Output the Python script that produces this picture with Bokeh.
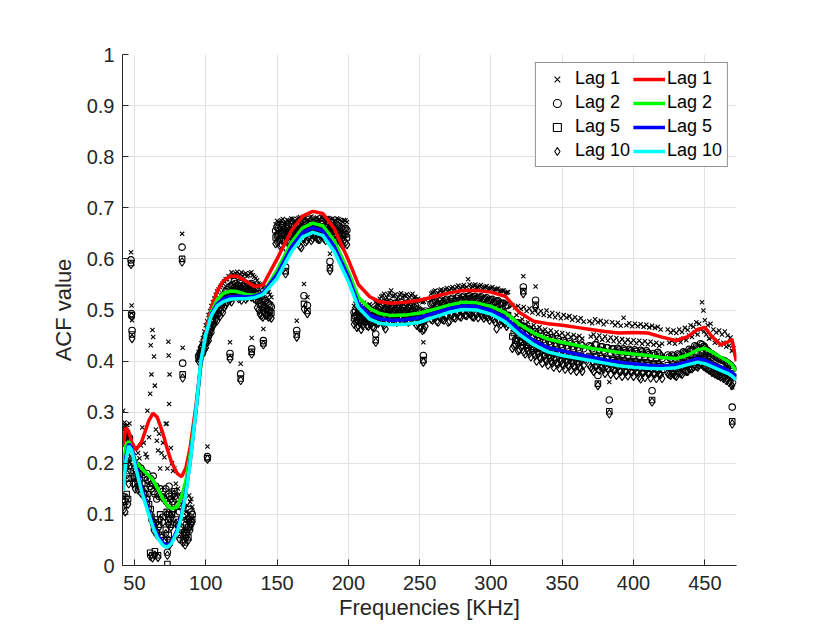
from bokeh.plotting import figure
from bokeh.models import Range1d, FixedTicker, Legend, LegendItem, ColumnDataSource
from bokeh.embed import file_html
from bokeh.resources import INLINE

# ---------------- data ----------------
x_ticks = [50, 100, 150, 200, 250, 300, 350, 400, 450]
y_ticks = [0, 0.1, 0.2, 0.3, 0.4, 0.5, 0.6, 0.7, 0.8, 0.9, 1]

# measured ACF values (markers) at each frequency [KHz]
freq_khz = [
    42.0, 42.5, 43.0, 43.5, 44.0, 44.5, 45.0, 45.5, 46.0, 46.5, 47.6, 48.0, 48.3,
    48.8, 49.5, 50.5, 51.5, 52.5, 53.5, 54.5, 55.5, 56.5, 57.8, 58.8, 59.1, 60.2,
    61.0, 61.4, 61.9, 62.6, 63.1, 63.7, 64.3, 65.0, 65.7, 66.5, 67.3, 68.0, 69.0,
    70.0, 71.0, 72.0, 72.6, 73.1, 73.8, 74.0, 74.3, 74.6, 75.5, 76.3, 77.0, 78.0,
    79.0, 80.5, 81.5, 82.5, 83.4, 83.8, 84.0, 84.8, 85.5, 86.3, 87.0, 87.8, 88.3,
    89.0, 89.8, 90.5, 101.2,
    117.0, 124.5, 132.2, 140.4, 156.0, 163.8, 168.9, 171.3, 187.1, 219.2, 252.6, 322.7, 331.3,
    95, 97, 99, 101, 103, 105, 107, 109, 111, 113, 115, 117, 119, 121, 123, 125, 127, 129, 131, 133,
    135, 137, 139, 141, 143, 145,
    149, 151, 153, 155, 157, 159, 161, 163, 165, 167, 169, 171, 173, 175, 177, 179, 181, 183, 185, 187,
    189, 191, 193, 195, 197, 199,
    204, 206, 208, 210, 212, 214, 216, 218, 220, 222, 224, 226, 228, 230, 232, 234, 236, 238, 240, 242,
    244, 246, 248, 250, 252, 254,
    258, 260, 262, 264, 266, 268, 270, 272, 274, 276, 278, 280, 282, 284, 286, 288, 290, 292, 294, 296,
    298, 300, 302, 304, 306, 308, 310, 312,
    315, 317, 319, 321, 323, 325, 327, 329, 331, 333, 335, 337, 339, 341, 343, 345, 347, 349, 351, 353,
    355, 357, 359, 361, 363, 365,
    369, 371, 373, 375, 377, 379, 381, 383, 385, 387, 389, 391, 393, 395, 397, 399, 401, 403, 405, 407,
    409, 411, 413, 415, 417, 419,
    424, 426, 428, 430, 432, 434, 436, 438, 440, 442, 444, 446, 448, 449, 450, 452, 454, 456, 458, 460,
    462, 464, 466, 468, 469.2, 470,
    # in-between frequencies of the dense bands
    96, 98, 100, 102, 104, 106, 108, 110, 112, 114, 116, 118, 120, 122, 124, 126, 128, 130, 132, 134,
    136, 138, 140, 142, 144, 146,
    150, 152, 154, 156, 158, 160, 162, 164, 166, 168, 170, 172, 174, 176, 178, 180, 182, 184, 186, 188,
    190, 192, 194, 196, 198,
    205, 207, 209, 211, 213, 215, 217, 219, 221, 223, 225, 227, 229, 231, 233, 235, 237, 239, 241, 243,
    245, 247, 249, 251, 253,
    259, 261, 263, 265, 267, 269, 271, 273, 275, 277, 279, 281, 283, 285, 287, 289, 291, 293, 295, 297,
    299, 301, 303, 305, 307, 309, 311,
    316, 318, 320, 322, 324, 326, 328, 330, 332, 334, 336, 338, 340, 342, 344, 346, 348, 350, 352, 354,
    356, 358, 360, 362, 364,
    370, 372, 374, 376, 378, 380, 382, 384, 386, 388, 390, 392, 394, 396, 398, 400, 402, 404, 406, 408,
    410, 412, 414, 416, 418, 420,
    425, 427, 429, 431, 433, 435, 437, 439, 441, 443, 445, 447, 449.5, 451, 453, 455, 457, 459, 461, 463,
    465, 467, 469,
]

acf_lag1 = [
    0.303, 0.272, 0.280, 0.268, 0.262, 0.255, 0.275, 0.250, 0.240, 0.278, 0.613, 0.509, 0.480,
    0.225, 0.215, 0.230, 0.205, 0.220, 0.210, 0.235, 0.270, 0.240, 0.218, 0.212, 0.303, 0.251,
    0.336, 0.431, 0.374, 0.461, 0.447, 0.409, 0.352, 0.266, 0.244, 0.225, 0.258, 0.190, 0.220,
    0.240, 0.212, 0.277, 0.278, 0.190, 0.438, 0.411, 0.316, 0.374, 0.230, 0.200, 0.185, 0.190,
    0.160, 0.150, 0.140, 0.135, 0.649, 0.426, 0.125, 0.115, 0.140, 0.105, 0.118, 0.100, 0.137,
    0.125, 0.130, 0.115, 0.233,
    0.437, 0.395, 0.445, 0.463, 0.640, 0.479, 0.551, 0.525, 0.610, 0.500, 0.437, 0.566, 0.546,
    0.418, 0.435, 0.458, 0.478, 0.498, 0.515, 0.530, 0.540, 0.548, 0.556, 0.560, 0.565, 0.570, 0.572,
    0.568, 0.574, 0.570, 0.566, 0.572, 0.568, 0.562, 0.552, 0.548, 0.545, 0.538, 0.530,
    0.668, 0.672, 0.675, 0.670, 0.676, 0.672, 0.678, 0.674, 0.680, 0.676, 0.679, 0.675, 0.681, 0.677,
    0.680, 0.676, 0.682, 0.678, 0.680, 0.676, 0.679, 0.675, 0.678, 0.674, 0.676, 0.672,
    0.508, 0.502, 0.512, 0.505, 0.510, 0.503, 0.508, 0.500, 0.512, 0.522, 0.528, 0.520, 0.530, 0.538,
    0.528, 0.522, 0.530, 0.525, 0.528, 0.522, 0.529, 0.524, 0.520, 0.518, 0.515, 0.520,
    0.532, 0.536, 0.530, 0.538, 0.534, 0.540, 0.536, 0.542, 0.538, 0.545, 0.540, 0.546, 0.542, 0.560,
    0.543, 0.548, 0.544, 0.547, 0.542, 0.545, 0.540, 0.543, 0.538, 0.541, 0.536, 0.538, 0.533, 0.535,
    0.510, 0.505, 0.508, 0.502, 0.506, 0.498, 0.503, 0.495, 0.500, 0.492, 0.498, 0.490, 0.499, 0.488,
    0.494, 0.486, 0.492, 0.484, 0.490, 0.485, 0.488, 0.481, 0.486, 0.479, 0.484, 0.477,
    0.478, 0.474, 0.482, 0.476, 0.479, 0.472, 0.477, 0.359, 0.476, 0.470, 0.475, 0.469, 0.485, 0.470,
    0.474, 0.468, 0.473, 0.468, 0.472, 0.467, 0.471, 0.466, 0.469, 0.465, 0.467, 0.462,
    0.462, 0.456, 0.460, 0.455, 0.462, 0.457, 0.465, 0.461, 0.470, 0.467, 0.476, 0.473, 0.515, 0.499,
    0.480, 0.470, 0.473, 0.462, 0.456, 0.460, 0.452, 0.458, 0.450, 0.446, 0.349, 0.425,
    0.425, 0.445, 0.470, 0.490, 0.508, 0.522, 0.536, 0.545, 0.552, 0.560, 0.566, 0.574, 0.568, 0.575,
    0.570, 0.566, 0.572, 0.568, 0.574, 0.565, 0.558, 0.550, 0.544, 0.540, 0.535, 0.525,
    0.674, 0.670, 0.678, 0.672, 0.675, 0.679, 0.673, 0.678, 0.682, 0.675, 0.680, 0.676, 0.683, 0.678,
    0.681, 0.677, 0.682, 0.676, 0.680, 0.678, 0.674, 0.679, 0.676, 0.672, 0.675,
    0.512, 0.506, 0.500, 0.514, 0.507, 0.511, 0.504, 0.515, 0.518, 0.526, 0.532, 0.524, 0.533, 0.527,
    0.531, 0.525, 0.533, 0.528, 0.531, 0.525, 0.532, 0.526, 0.522, 0.518, 0.516,
    0.534, 0.538, 0.533, 0.540, 0.537, 0.543, 0.539, 0.545, 0.541, 0.548, 0.543, 0.549, 0.545, 0.550,
    0.546, 0.550, 0.545, 0.549, 0.544, 0.547, 0.542, 0.545, 0.540, 0.542, 0.537, 0.538, 0.534,
    0.485, 0.490, 0.478, 0.482, 0.472, 0.476, 0.466, 0.470, 0.462, 0.466, 0.458, 0.462, 0.455, 0.460,
    0.452, 0.457, 0.450, 0.455, 0.448, 0.453, 0.447, 0.451, 0.446, 0.449, 0.444,
    0.448, 0.452, 0.444, 0.450, 0.442, 0.448, 0.440, 0.446, 0.439, 0.445, 0.437, 0.443, 0.436, 0.442,
    0.436, 0.441, 0.435, 0.440, 0.434, 0.439, 0.433, 0.438, 0.432, 0.436, 0.430, 0.434,
    0.436, 0.440, 0.434, 0.442, 0.437, 0.444, 0.441, 0.450, 0.447, 0.456, 0.452, 0.462, 0.458, 0.452,
    0.444, 0.446, 0.436, 0.440, 0.432, 0.436, 0.428, 0.430, 0.420,
]

acf_lag2 = [
    0.270, 0.262, 0.255, 0.250, 0.205, 0.215, 0.200, 0.210, 0.195, 0.250, 0.598, 0.493, 0.460,
    0.205, 0.200, 0.190, 0.185, 0.195, 0.180, 0.190, 0.185, 0.178, 0.172, 0.180, 0.168, 0.165,
    0.155, 0.170, 0.150, 0.160, 0.175, 0.145, 0.140, 0.155, 0.130, 0.140, 0.135, 0.150, 0.135,
    0.145, 0.130, 0.150, 0.125, 0.026, 0.140, 0.120, 0.155, 0.135, 0.130, 0.140, 0.125, 0.135,
    0.130, 0.120, 0.105, 0.115, 0.623, 0.396, 0.095, 0.085, 0.100, 0.080, 0.090, 0.075, 0.110,
    0.095, 0.105, 0.100, 0.213,
    0.415, 0.375, 0.424, 0.440, 0.584, 0.460, 0.528, 0.509, 0.595, 0.453, 0.411, 0.545, 0.519,
    0.410, 0.425, 0.440, 0.455, 0.470, 0.488, 0.500, 0.512, 0.522, 0.530, 0.540, 0.546, 0.550, 0.552,
    0.548, 0.552, 0.550, 0.546, 0.550, 0.548, 0.542, 0.532, 0.526, 0.522, 0.515, 0.510,
    0.655, 0.660, 0.662, 0.658, 0.662, 0.656, 0.664, 0.660, 0.666, 0.662, 0.665, 0.662, 0.667, 0.664,
    0.666, 0.662, 0.668, 0.664, 0.666, 0.661, 0.665, 0.660, 0.664, 0.660, 0.660, 0.656,
    0.495, 0.490, 0.498, 0.492, 0.496, 0.490, 0.494, 0.488, 0.497, 0.505, 0.510, 0.502, 0.512, 0.506,
    0.508, 0.504, 0.511, 0.506, 0.509, 0.504, 0.510, 0.505, 0.500, 0.496, 0.492, 0.498,
    0.512, 0.515, 0.510, 0.517, 0.513, 0.519, 0.515, 0.521, 0.517, 0.523, 0.519, 0.525, 0.521, 0.526,
    0.522, 0.526, 0.522, 0.524, 0.520, 0.522, 0.518, 0.520, 0.515, 0.517, 0.512, 0.513, 0.508, 0.509,
    0.470, 0.462, 0.475, 0.458, 0.468, 0.455, 0.462, 0.450, 0.458, 0.446, 0.455, 0.442, 0.450, 0.438,
    0.446, 0.435, 0.444, 0.432, 0.440, 0.430, 0.438, 0.428, 0.436, 0.426, 0.433, 0.424,
    0.430, 0.424, 0.432, 0.372, 0.428, 0.420, 0.426, 0.324, 0.424, 0.418, 0.425, 0.418, 0.424, 0.417,
    0.423, 0.416, 0.422, 0.415, 0.421, 0.414, 0.420, 0.413, 0.342, 0.412, 0.417, 0.410,
    0.412, 0.405, 0.410, 0.404, 0.412, 0.408, 0.416, 0.414, 0.420, 0.422, 0.428, 0.425, 0.432, 0.428,
    0.426, 0.420, 0.415, 0.412, 0.408, 0.404, 0.402, 0.400, 0.396, 0.392, 0.310, 0.385,
    0.415, 0.430, 0.448, 0.465, 0.480, 0.494, 0.506, 0.518, 0.528, 0.536, 0.544, 0.548, 0.556, 0.548,
    0.554, 0.546, 0.552, 0.548, 0.552, 0.545, 0.538, 0.528, 0.520, 0.518, 0.512, 0.506,
    0.662, 0.656, 0.665, 0.660, 0.664, 0.668, 0.662, 0.666, 0.670, 0.663, 0.668, 0.664, 0.670, 0.666,
    0.669, 0.664, 0.670, 0.663, 0.667, 0.665, 0.660, 0.666, 0.662, 0.658, 0.660,
    0.498, 0.493, 0.488, 0.500, 0.494, 0.498, 0.490, 0.500, 0.502, 0.508, 0.514, 0.506, 0.515, 0.509,
    0.513, 0.507, 0.515, 0.510, 0.513, 0.507, 0.513, 0.508, 0.502, 0.498, 0.495,
    0.514, 0.517, 0.512, 0.519, 0.516, 0.521, 0.517, 0.523, 0.519, 0.526, 0.521, 0.527, 0.523, 0.528,
    0.524, 0.527, 0.523, 0.526, 0.521, 0.524, 0.519, 0.521, 0.516, 0.518, 0.513, 0.513, 0.509,
    0.476, 0.466, 0.472, 0.460, 0.466, 0.452, 0.459, 0.446, 0.452, 0.440, 0.448, 0.436, 0.444, 0.433,
    0.441, 0.430, 0.438, 0.428, 0.436, 0.426, 0.434, 0.424, 0.432, 0.422, 0.430,
    0.428, 0.420, 0.432, 0.422, 0.428, 0.418, 0.426, 0.416, 0.424, 0.414, 0.422, 0.412, 0.421, 0.411,
    0.420, 0.410, 0.419, 0.409, 0.418, 0.408, 0.416, 0.407, 0.415, 0.406, 0.414, 0.405,
    0.408, 0.412, 0.406, 0.414, 0.410, 0.418, 0.415, 0.423, 0.420, 0.430, 0.426, 0.434, 0.429, 0.422,
    0.418, 0.414, 0.410, 0.406, 0.403, 0.401, 0.397, 0.394, 0.388,
]

acf_lag5 = [
    0.135, 0.118, 0.205, 0.125, 0.195, 0.140, 0.185, 0.130, 0.170, 0.240, 0.592, 0.490, 0.452,
    0.170, 0.185, 0.160, 0.175, 0.155, 0.168, 0.150, 0.160, 0.142, 0.150, 0.130, 0.140, 0.120,
    0.025, 0.110, 0.095, 0.020, 0.085, 0.075, 0.028, 0.090, 0.065, 0.020, 0.080, 0.100, 0.060,
    0.095, 0.050, 0.070, 0.105, 0.003, 0.085, 0.060, 0.100, 0.045, 0.080, 0.100, 0.110, 0.145,
    0.090, 0.085, 0.060, 0.075, 0.600, 0.374, 0.050, 0.065, 0.045, 0.060, 0.070, 0.055, 0.090,
    0.075, 0.085, 0.090, 0.210,
    0.408, 0.366, 0.418, 0.435, 0.576, 0.452, 0.512, 0.498, 0.582, 0.441, 0.402, 0.537, 0.510,
    0.405, 0.418, 0.430, 0.446, 0.462, 0.478, 0.490, 0.500, 0.510, 0.520, 0.528, 0.532, 0.538, 0.540,
    0.536, 0.540, 0.538, 0.535, 0.540, 0.537, 0.532, 0.518, 0.510, 0.506, 0.500, 0.498,
    0.642, 0.648, 0.650, 0.645, 0.652, 0.646, 0.652, 0.648, 0.654, 0.650, 0.655, 0.650, 0.656, 0.652,
    0.655, 0.650, 0.656, 0.652, 0.654, 0.650, 0.653, 0.648, 0.652, 0.646, 0.648, 0.642,
    0.484, 0.478, 0.486, 0.480, 0.485, 0.478, 0.483, 0.476, 0.485, 0.492, 0.496, 0.488, 0.498, 0.492,
    0.494, 0.490, 0.497, 0.493, 0.495, 0.490, 0.496, 0.491, 0.486, 0.480, 0.476, 0.482,
    0.498, 0.500, 0.496, 0.502, 0.499, 0.504, 0.500, 0.506, 0.502, 0.508, 0.504, 0.510, 0.506, 0.511,
    0.507, 0.510, 0.506, 0.508, 0.504, 0.506, 0.502, 0.503, 0.498, 0.499, 0.494, 0.495, 0.490, 0.490,
    0.448, 0.440, 0.452, 0.436, 0.446, 0.432, 0.440, 0.428, 0.436, 0.424, 0.430, 0.420, 0.426, 0.416,
    0.422, 0.414, 0.420, 0.410, 0.416, 0.408, 0.414, 0.406, 0.412, 0.404, 0.410, 0.402,
    0.410, 0.404, 0.408, 0.356, 0.405, 0.400, 0.404, 0.302, 0.402, 0.398, 0.403, 0.397, 0.402, 0.396,
    0.400, 0.395, 0.400, 0.394, 0.398, 0.393, 0.398, 0.392, 0.324, 0.391, 0.395, 0.390,
    0.392, 0.386, 0.390, 0.385, 0.392, 0.389, 0.396, 0.394, 0.400, 0.402, 0.406, 0.405, 0.410, 0.408,
    0.404, 0.400, 0.396, 0.392, 0.389, 0.386, 0.384, 0.382, 0.378, 0.374, 0.282, 0.370,
    0.408, 0.420, 0.436, 0.450, 0.466, 0.480, 0.492, 0.504, 0.514, 0.522, 0.530, 0.535, 0.542, 0.536,
    0.542, 0.536, 0.540, 0.536, 0.541, 0.534, 0.526, 0.512, 0.505, 0.503, 0.498, 0.494,
    0.646, 0.640, 0.652, 0.647, 0.655, 0.650, 0.656, 0.652, 0.658, 0.650, 0.656, 0.652, 0.658, 0.654,
    0.657, 0.652, 0.658, 0.651, 0.655, 0.653, 0.648, 0.654, 0.650, 0.645, 0.648,
    0.488, 0.481, 0.476, 0.489, 0.482, 0.487, 0.479, 0.490, 0.488, 0.494, 0.500, 0.492, 0.501, 0.495,
    0.499, 0.493, 0.500, 0.495, 0.498, 0.492, 0.499, 0.494, 0.488, 0.482, 0.479,
    0.499, 0.502, 0.497, 0.504, 0.501, 0.506, 0.502, 0.508, 0.504, 0.511, 0.506, 0.512, 0.508, 0.512,
    0.508, 0.511, 0.507, 0.510, 0.505, 0.507, 0.502, 0.504, 0.499, 0.500, 0.495, 0.494, 0.490,
    0.455, 0.444, 0.450, 0.438, 0.444, 0.430, 0.436, 0.424, 0.432, 0.418, 0.426, 0.412, 0.420, 0.410,
    0.418, 0.406, 0.416, 0.404, 0.412, 0.402, 0.410, 0.400, 0.408, 0.398, 0.406,
    0.407, 0.398, 0.410, 0.400, 0.406, 0.396, 0.404, 0.394, 0.402, 0.392, 0.400, 0.390, 0.399, 0.389,
    0.398, 0.388, 0.397, 0.387, 0.396, 0.386, 0.395, 0.385, 0.394, 0.384, 0.393, 0.383,
    0.388, 0.391, 0.386, 0.393, 0.390, 0.397, 0.394, 0.402, 0.400, 0.408, 0.404, 0.411, 0.406, 0.400,
    0.397, 0.393, 0.390, 0.387, 0.384, 0.382, 0.378, 0.375, 0.368,
]

acf_lag10 = [
    0.128, 0.110, 0.198, 0.105, 0.190, 0.132, 0.178, 0.120, 0.160, 0.232, 0.589, 0.487, 0.444,
    0.160, 0.175, 0.150, 0.165, 0.148, 0.160, 0.142, 0.150, 0.135, 0.140, 0.122, 0.130, 0.112,
    0.018, 0.100, 0.088, 0.015, 0.080, 0.068, 0.020, 0.082, 0.060, 0.016, 0.075, 0.090, 0.055,
    0.085, 0.045, 0.062, 0.100, 0.020, 0.080, 0.050, 0.092, 0.040, 0.075, 0.095, 0.105, 0.140,
    0.082, 0.078, 0.052, 0.070, 0.594, 0.367, 0.045, 0.060, 0.040, 0.055, 0.065, 0.050, 0.085,
    0.068, 0.080, 0.085, 0.208,
    0.404, 0.362, 0.414, 0.432, 0.571, 0.447, 0.502, 0.493, 0.577, 0.437, 0.398, 0.532, 0.505,
    0.400, 0.412, 0.422, 0.438, 0.452, 0.470, 0.482, 0.492, 0.498, 0.505, 0.515, 0.520, 0.525, 0.528,
    0.522, 0.519, 0.526, 0.524, 0.530, 0.527, 0.520, 0.500, 0.489, 0.495, 0.490, 0.488,
    0.630, 0.634, 0.628, 0.636, 0.640, 0.624, 0.638, 0.630, 0.642, 0.622, 0.640, 0.636, 0.644, 0.640,
    0.645, 0.638, 0.646, 0.640, 0.644, 0.637, 0.642, 0.636, 0.640, 0.632, 0.636, 0.628,
    0.472, 0.466, 0.474, 0.470, 0.475, 0.468, 0.472, 0.465, 0.474, 0.480, 0.476, 0.463, 0.484, 0.478,
    0.482, 0.476, 0.484, 0.479, 0.482, 0.476, 0.483, 0.477, 0.470, 0.465, 0.460, 0.468,
    0.482, 0.485, 0.478, 0.486, 0.482, 0.488, 0.476, 0.490, 0.486, 0.492, 0.488, 0.494, 0.490, 0.495,
    0.491, 0.486, 0.492, 0.494, 0.489, 0.490, 0.486, 0.488, 0.482, 0.463, 0.478, 0.479, 0.474, 0.472,
    0.425, 0.432, 0.420, 0.428, 0.418, 0.425, 0.415, 0.420, 0.410, 0.415, 0.405, 0.410, 0.400, 0.406,
    0.396, 0.402, 0.394, 0.400, 0.392, 0.398, 0.390, 0.396, 0.388, 0.394, 0.386, 0.392,
    0.392, 0.385, 0.390, 0.352, 0.388, 0.384, 0.390, 0.297, 0.388, 0.382, 0.389, 0.380, 0.387, 0.380,
    0.386, 0.379, 0.385, 0.378, 0.365, 0.378, 0.383, 0.376, 0.320, 0.375, 0.380, 0.374,
    0.376, 0.372, 0.375, 0.370, 0.378, 0.374, 0.381, 0.380, 0.385, 0.388, 0.390, 0.392, 0.394, 0.390,
    0.389, 0.385, 0.382, 0.378, 0.375, 0.372, 0.370, 0.368, 0.364, 0.360, 0.277, 0.358,
    0.402, 0.414, 0.426, 0.440, 0.456, 0.472, 0.479, 0.488, 0.495, 0.510, 0.518, 0.516, 0.527, 0.530,
    0.524, 0.528, 0.521, 0.532, 0.525, 0.522, 0.505, 0.492, 0.486, 0.490, 0.486, 0.484,
    0.633, 0.626, 0.638, 0.622, 0.635, 0.630, 0.628, 0.636, 0.625, 0.640, 0.633, 0.642, 0.636, 0.645,
    0.640, 0.638, 0.644, 0.636, 0.641, 0.634, 0.630, 0.638, 0.634, 0.626, 0.632,
    0.476, 0.469, 0.462, 0.477, 0.470, 0.474, 0.467, 0.478, 0.474, 0.482, 0.470, 0.479, 0.486, 0.481,
    0.485, 0.479, 0.487, 0.481, 0.484, 0.478, 0.485, 0.480, 0.473, 0.466, 0.462,
    0.480, 0.487, 0.476, 0.484, 0.480, 0.490, 0.478, 0.492, 0.484, 0.495, 0.486, 0.497, 0.489, 0.493,
    0.487, 0.494, 0.485, 0.491, 0.484, 0.488, 0.480, 0.485, 0.476, 0.480, 0.472, 0.476, 0.468,
    0.430, 0.438, 0.422, 0.430, 0.414, 0.420, 0.408, 0.414, 0.400, 0.408, 0.396, 0.404, 0.392, 0.400,
    0.388, 0.396, 0.386, 0.394, 0.384, 0.392, 0.382, 0.390, 0.380, 0.388, 0.380,
    0.388, 0.380, 0.392, 0.382, 0.388, 0.376, 0.386, 0.374, 0.384, 0.372, 0.382, 0.370, 0.381, 0.371,
    0.380, 0.370, 0.379, 0.369, 0.378, 0.368, 0.377, 0.367, 0.376, 0.366, 0.375, 0.366,
    0.374, 0.377, 0.372, 0.379, 0.376, 0.383, 0.380, 0.386, 0.385, 0.392, 0.388, 0.395, 0.391, 0.386,
    0.382, 0.378, 0.375, 0.372, 0.369, 0.366, 0.362, 0.358, 0.352,
]

# smoothed fits (lines)
fit_freq = [42, 44, 46, 48, 51, 55, 60, 63, 66, 70, 73, 76, 80, 83, 86, 89, 93, 96.5, 100, 104,
            108, 112, 117, 122, 128, 134, 140, 150, 160, 168, 175, 182, 190, 200, 207, 215, 222, 230,
            240, 250, 260, 270, 280, 290, 300, 310, 320, 330, 340, 350, 360, 370, 380, 390, 400, 410,
            420, 430, 438, 445, 450, 455, 461, 466, 469, 472]
fit_lag1 = [0.232, 0.270, 0.262, 0.242, 0.226, 0.242, 0.283, 0.298, 0.290, 0.258, 0.228, 0.202,
            0.180, 0.174, 0.190, 0.230, 0.310, 0.395, 0.455, 0.505, 0.537, 0.556, 0.566, 0.566,
            0.557, 0.546, 0.548, 0.600, 0.655, 0.684, 0.693, 0.689, 0.660, 0.598, 0.550, 0.526,
            0.516, 0.513, 0.515, 0.519, 0.526, 0.533, 0.538, 0.538, 0.535, 0.527, 0.495, 0.478,
            0.473, 0.470, 0.466, 0.462, 0.458, 0.455, 0.456, 0.455, 0.447, 0.440, 0.448, 0.462,
            0.466, 0.448, 0.432, 0.437, 0.443, 0.400]
fit_lag2 = [0.192, 0.235, 0.243, 0.228, 0.202, 0.190, 0.176, 0.167, 0.152, 0.130, 0.118, 0.111,
            0.115, 0.135, 0.165, 0.215, 0.300, 0.390, 0.450, 0.497, 0.520, 0.532, 0.537, 0.536,
            0.531, 0.529, 0.533, 0.578, 0.632, 0.661, 0.670, 0.665, 0.636, 0.575, 0.525, 0.503,
            0.493, 0.489, 0.490, 0.494, 0.501, 0.509, 0.515, 0.514, 0.507, 0.495, 0.472, 0.455,
            0.443, 0.437, 0.431, 0.425, 0.421, 0.417, 0.414, 0.411, 0.407, 0.405, 0.412, 0.422,
            0.425, 0.418, 0.408, 0.400, 0.393, 0.380]
fit_lag5 = [0.153, 0.212, 0.238, 0.230, 0.196, 0.150, 0.105, 0.080, 0.060, 0.044, 0.039, 0.046,
            0.070, 0.100, 0.143, 0.202, 0.300, 0.395, 0.450, 0.493, 0.512, 0.521, 0.526, 0.527,
            0.526, 0.527, 0.533, 0.570, 0.623, 0.652, 0.661, 0.655, 0.625, 0.565, 0.512, 0.490,
            0.483, 0.480, 0.481, 0.485, 0.494, 0.502, 0.508, 0.507, 0.499, 0.485, 0.460, 0.440,
            0.426, 0.420, 0.414, 0.408, 0.402, 0.398, 0.395, 0.392, 0.390, 0.393, 0.399, 0.405,
            0.402, 0.395, 0.388, 0.382, 0.378, 0.370]
fit_lag10 = [0.147, 0.205, 0.234, 0.226, 0.190, 0.145, 0.100, 0.075, 0.055, 0.039, 0.036, 0.043,
             0.066, 0.096, 0.140, 0.200, 0.300, 0.400, 0.452, 0.490, 0.508, 0.516, 0.521, 0.522,
             0.522, 0.524, 0.530, 0.562, 0.614, 0.643, 0.652, 0.646, 0.615, 0.556, 0.505, 0.482,
             0.474, 0.471, 0.472, 0.476, 0.486, 0.495, 0.501, 0.500, 0.492, 0.477, 0.452, 0.432,
             0.418, 0.411, 0.406, 0.401, 0.396, 0.391, 0.388, 0.386, 0.385, 0.387, 0.393, 0.398,
             0.395, 0.389, 0.382, 0.376, 0.371, 0.363]

# ---------------- figure ----------------
FONT = "Liberation Sans"
AX = "#262626"

p = figure(width=814, height=626, output_backend="svg", toolbar_location=None,
           x_range=Range1d(41.6, 472.2), y_range=Range1d(0, 1),
           min_border_left=122, min_border_right=78, min_border_top=54, min_border_bottom=61)
p.outline_line_color = None
p.background_fill_color = "white"
p.border_fill_color = "white"

pts = ColumnDataSource(dict(f=freq_khz, l1=acf_lag1, l2=acf_lag2, l5=acf_lag5, l10=acf_lag10))
fits = ColumnDataSource(dict(f=fit_freq, l1=fit_lag1, l2=fit_lag2, l5=fit_lag5, l10=fit_lag10))

mk = dict(source=pts, line_color="black", line_width=1.1, fill_color=None)
r_x = p.scatter("f", "l1", marker="x", size=6, **mk)
r_o = p.scatter("f", "l2", marker="circle", size=6.5, **mk)
r_s = p.scatter("f", "l5", marker="square", size=5.5, **mk)
r_d = p.scatter("f", "l10", marker="diamond", size=8.5, **mk)

ln1 = p.line("f", "l1", source=fits, line_color="#ff0000", line_width=3.5)
ln2 = p.line("f", "l2", source=fits, line_color="#00ff00", line_width=3.5)
ln5 = p.line("f", "l5", source=fits, line_color="#0000ff", line_width=3.5)
ln10 = p.line("f", "l10", source=fits, line_color="#00ffff", line_width=3.5)

# axes
xt = FixedTicker(ticks=x_ticks)
yt = FixedTicker(ticks=y_ticks)
p.xaxis.ticker = xt
p.yaxis.ticker = yt
p.xgrid.ticker = xt
p.ygrid.ticker = yt
p.yaxis.major_label_overrides = {0: "0", 1: "1"}

for ax in (p.xaxis[0], p.yaxis[0]):
    ax.axis_line_color = AX
    ax.axis_line_width = 1
    ax.major_tick_line_color = AX
    ax.major_tick_in = 6
    ax.major_tick_out = 0
    ax.minor_tick_line_color = None
    ax.major_label_text_font = FONT
    ax.major_label_text_font_size = "20px"
    ax.major_label_text_color = AX
    ax.axis_label_text_font = FONT
    ax.axis_label_text_font_size = "22px"
    ax.axis_label_text_font_style = "normal"
    ax.axis_label_text_color = AX

p.xaxis.axis_label = "Frequencies [KHz]"
p.yaxis.axis_label = "ACF value"
p.xaxis.major_label_standoff = 10
p.yaxis.major_label_standoff = 8
p.xaxis.axis_label_standoff = 2
p.yaxis.axis_label_standoff = 8

for g in (p.xgrid[0], p.ygrid[0]):
    g.grid_line_color = "#e3e3e3"
    g.grid_line_width = 1

legend = Legend(items=[
    LegendItem(label="Lag 1", renderers=[r_x]),
    LegendItem(label="Lag 2", renderers=[r_o]),
    LegendItem(label="Lag 5", renderers=[r_s]),
    LegendItem(label="Lag 10", renderers=[r_d]),
    LegendItem(label="Lag 1", renderers=[ln1]),
    LegendItem(label="Lag 2", renderers=[ln2]),
    LegendItem(label="Lag 5", renderers=[ln5]),
    LegendItem(label="Lag 10", renderers=[ln10]),
], location="top_right", ncols=2)
legend.label_text_font = FONT
legend.label_text_font_size = "18px"
legend.label_text_color = "black"
legend.border_line_color = AX
legend.border_line_width = 0.8
legend.background_fill_color = "white"
legend.background_fill_alpha = 1
legend.padding = 5
legend.spacing = 3
legend.margin = 8
legend.glyph_width = 32
legend.glyph_height = 20
legend.label_standoff = 2
legend.label_height = 20
p.add_layout(legend)

open("out.html", "w").write(file_html(p, INLINE))
